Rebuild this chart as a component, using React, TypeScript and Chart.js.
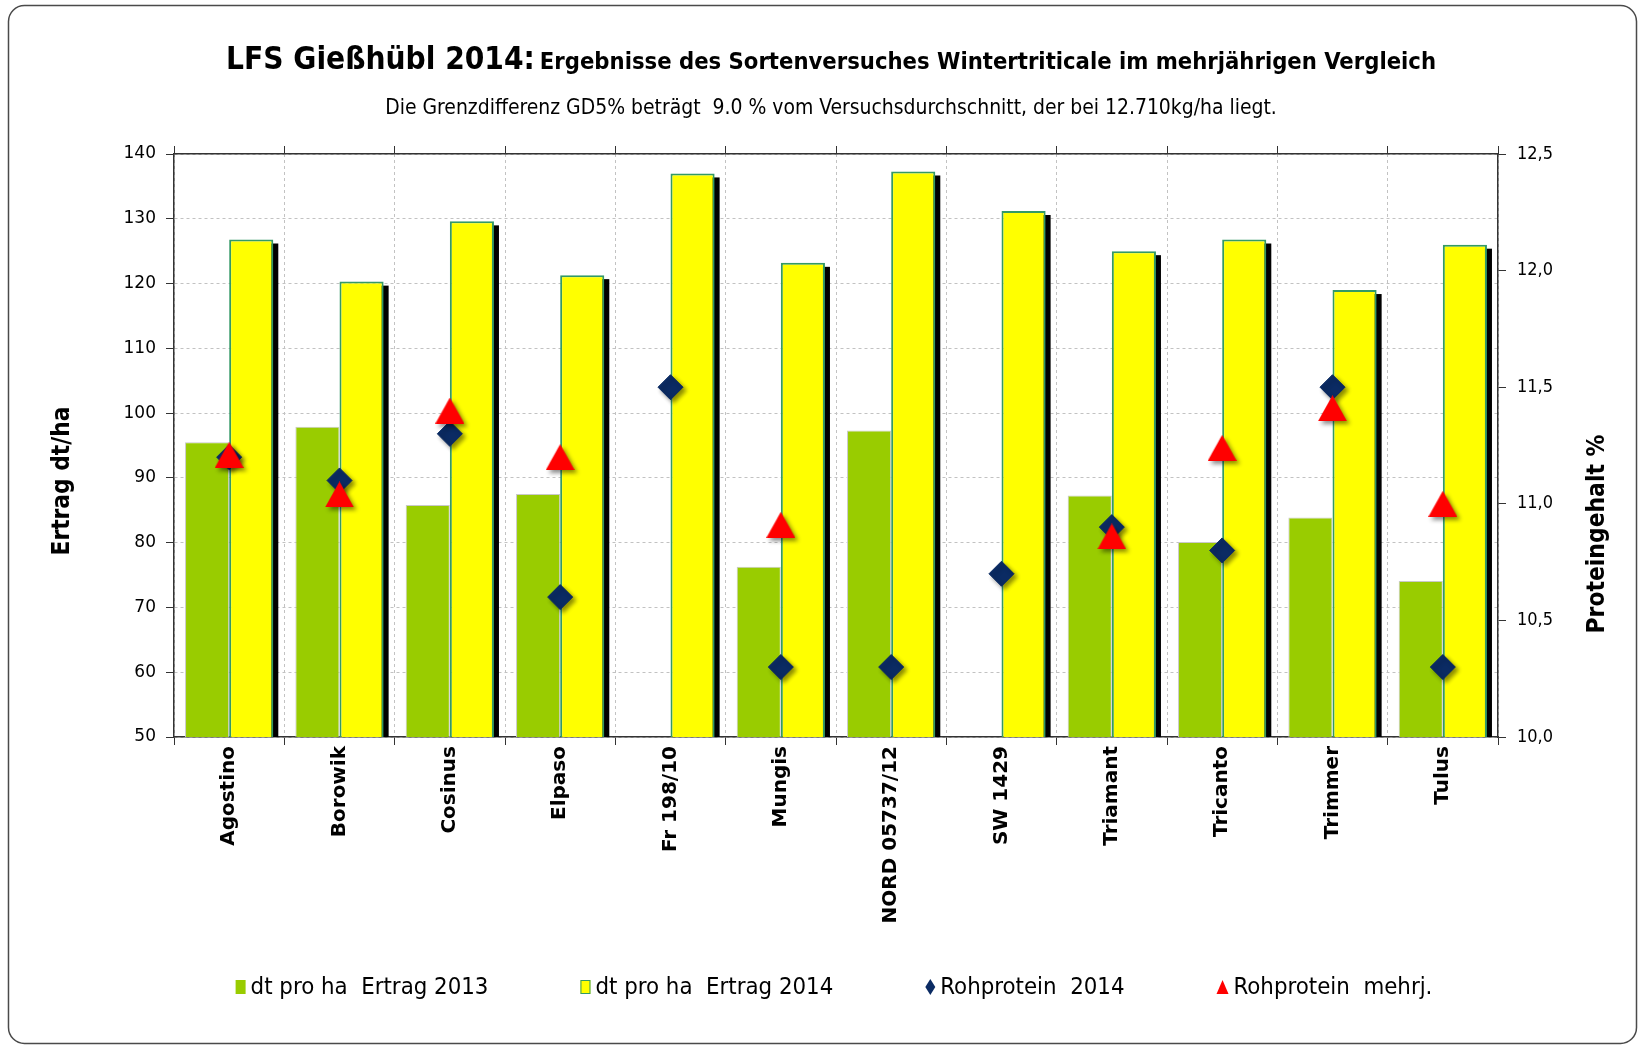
import React, { useEffect, useRef } from 'react';
import { Chart, registerables } from 'chart.js';

Chart.register(...registerables);

// ---------- data ----------
const categories = [
  'Agostino', 'Borowik', 'Cosinus', 'Elpaso', 'Fr 198/10', 'Mungis',
  'NORD 05737/12', 'SW 1429', 'Triamant', 'Tricanto', 'Trimmer', 'Tulus',
];
const ertrag2013 = [95.5, 97.9, 85.8, 87.5, null, 76.3, 97.3, null, 87.3, 80.1, 83.9, 74.1];
const ertrag2014 = [126.8, 120.3, 129.6, 121.3, 137.0, 123.2, 137.3, 131.2, 125.0, 126.8, 119.0, 126.0];
const rohprotein2014 = [11.2, 11.1, 11.3, 10.6, 11.5, 10.3, 10.3, 10.7, 10.9, 10.8, 11.5, 10.3];
const rohproteinMehrj = [11.21, 11.04, 11.4, 11.2, null, 10.91, null, null, 10.86, 11.24, 11.41, 11.0];

const seriesLabels = [
  'dt pro ha  Ertrag 2013',
  'dt pro ha  Ertrag 2014',
  'Rohprotein  2014',
  'Rohprotein  mehrj.',
];
const yieldAxis = { min: 50, max: 140, step: 10 };
const proteinAxis = { min: 10, max: 12.5, step: 0.5 };

const titleMain = 'LFS Gießhübl 2014:';
const titleRest = 'Ergebnisse des Sortenversuches Wintertriticale im mehrjährigen Vergleich';
const subtitleText =
  'Die Grenzdifferenz GD5% beträgt  9.0 % vom Versuchsdurchschnitt, der bei 12.710kg/ha liegt.';
const yTitle = 'Ertrag dt/ha';
const y1Title = 'Proteingehalt %';

// ---------- styles ----------
const TAHOMA = '"DejaVu Sans Condensed", "DejaVu Sans", sans-serif';
const VERDANA = '"DejaVu Sans", sans-serif';
const GREEN = '#99CC00';
const YELLOW = '#FFFF00';
const YELLOW_BORDER = '#339966';
const NAVY = '#0b2b63';
const RED = '#FF0000';
const GRID = '#c2c2c2';
const AXIS = '#333333';

function fitSize(ctx: CanvasRenderingContext2D, text: string, weight: string, family: string, target: number) {
  ctx.font = `${weight} 20px ${family}`;
  const w = ctx.measureText(text).width;
  return (20 * target) / w;
}

function drawDiamond(ctx: CanvasRenderingContext2D, x: number, y: number, hw: number, hh: number) {
  ctx.beginPath();
  ctx.moveTo(x, y - hh);
  ctx.lineTo(x + hw, y);
  ctx.lineTo(x, y + hh);
  ctx.lineTo(x - hw, y);
  ctx.closePath();
  ctx.fill();
}

function drawTriangle(ctx: CanvasRenderingContext2D, x: number, y: number, hw: number, hh: number) {
  ctx.beginPath();
  ctx.moveTo(x, y - hh);
  ctx.lineTo(x + hw, y + hh);
  ctx.lineTo(x - hw, y + hh);
  ctx.closePath();
  ctx.fill();
}

// triangle marker centred on its bounding box (as in the original spreadsheet chart)
function makeTriangleMarker(w: number, h: number, color: string) {
  const c = document.createElement('canvas');
  c.width = w;
  c.height = h;
  const g = c.getContext('2d')!;
  g.fillStyle = color;
  drawTriangle(g, w / 2, h / 2, w / 2, h / 2);
  return c;
}

const decorPlugin = {
  id: 'decor',
  beforeDraw(chart: any) {
    const { ctx, width, height } = chart;
    ctx.save();
    ctx.fillStyle = '#ffffff';
    ctx.fillRect(0, 0, width, height);
    ctx.restore();
  },
  beforeDatasetDraw(chart: any, args: any) {
    const { ctx, chartArea } = chart;
    const idx = args.index;
    if (idx === 1) {
      // solid black drop shadow of the 2014 bars
      ctx.save();
      ctx.beginPath();
      ctx.rect(chartArea.left, chartArea.top, chartArea.right - chartArea.left, chartArea.bottom - chartArea.top);
      ctx.clip();
      ctx.fillStyle = '#000000';
      args.meta.data.forEach((bar: any) => {
        if (bar.skip) return;
        const { x, y, base, width } = bar.getProps(['x', 'y', 'base', 'width'], true);
        ctx.fillRect(x - width / 2 + 5, y + 4, width, base - y);
      });
      ctx.restore();
    }
    if (idx === 2 || idx === 3) {
      ctx.save();
      ctx.shadowColor = 'rgba(0,0,0,0.45)';
      ctx.shadowBlur = 4;
      ctx.shadowOffsetX = 3;
      ctx.shadowOffsetY = 3;
    }
  },
  afterDatasetDraw(chart: any, args: any) {
    if (args.index === 2 || args.index === 3) chart.ctx.restore();
  },
  afterDraw(chart: any) {
    const { ctx } = chart;
    ctx.save();

    // frame
    ctx.strokeStyle = '#4a4a4a';
    ctx.lineWidth = 1.5;
    ctx.beginPath();
    const fx = 8.5, fy = 5.5, fw = 1628, fh = 1038, r = 16;
    ctx.moveTo(fx + r, fy);
    ctx.lineTo(fx + fw - r, fy);
    ctx.arcTo(fx + fw, fy, fx + fw, fy + r, r);
    ctx.lineTo(fx + fw, fy + fh - r);
    ctx.arcTo(fx + fw, fy + fh, fx + fw - r, fy + fh, r);
    ctx.lineTo(fx + r, fy + fh);
    ctx.arcTo(fx, fy + fh, fx, fy + fh - r, r);
    ctx.lineTo(fx, fy + r);
    ctx.arcTo(fx, fy, fx + r, fy, r);
    ctx.stroke();

    // title (two sizes)
    ctx.fillStyle = '#000000';
    ctx.textBaseline = 'alphabetic';
    ctx.textAlign = 'left';
    const s1 = fitSize(ctx, titleMain, 'bold', TAHOMA, 309);
    const s2 = fitSize(ctx, titleRest, 'bold', TAHOMA, 897);
    ctx.font = `bold ${s1}px ${TAHOMA}`;
    const w1 = ctx.measureText(titleMain).width;
    ctx.font = `bold ${s2}px ${TAHOMA}`;
    const w2 = ctx.measureText(titleRest).width;
    const gap = 5;
    const tx = 831 - (w1 + gap + w2) / 2;
    ctx.font = `bold ${s1}px ${TAHOMA}`;
    ctx.fillText(titleMain, tx, 69);
    ctx.font = `bold ${s2}px ${TAHOMA}`;
    ctx.fillText(titleRest, tx + w1 + gap, 69);

    // subtitle
    const s3 = fitSize(ctx, subtitleText, 'normal', TAHOMA, 892);
    ctx.font = `normal ${s3}px ${TAHOMA}`;
    ctx.textAlign = 'center';
    ctx.fillText(subtitleText, 831, 114);

    // axis titles
    const s4 = fitSize(ctx, yTitle, 'bold', TAHOMA, 149);
    ctx.font = `bold ${s4}px ${TAHOMA}`;
    ctx.textBaseline = 'middle';
    ctx.save();
    ctx.translate(63, 481);
    ctx.rotate(-Math.PI / 2);
    ctx.fillText(yTitle, 0, 0);
    ctx.restore();
    const s5 = fitSize(ctx, y1Title, 'bold', TAHOMA, 199);
    ctx.font = `bold ${s5}px ${TAHOMA}`;
    ctx.save();
    ctx.translate(1598, 534);
    ctx.rotate(-Math.PI / 2);
    ctx.fillText(y1Title, 0, 0);
    ctx.restore();

    // legend
    const ls = fitSize(ctx, seriesLabels[0], 'normal', TAHOMA, 238);
    ctx.font = `normal ${ls}px ${TAHOMA}`;
    ctx.textAlign = 'left';
    ctx.textBaseline = 'middle';
    const datasets = chart.data.datasets;
    const markerW = [10, 10, 10, 12];
    const afterMarker = 5;
    const itemGap = 92;
    const widths = datasets.map((d: any, i: number) => markerW[i] + afterMarker + ctx.measureText(d.label).width);
    const total = widths.reduce((a: number, b: number) => a + b, 0) + itemGap * (datasets.length - 1);
    let lx = 834 - total / 2;
    const ly = 987;
    datasets.forEach((d: any, i: number) => {
      if (i < 2) {
        ctx.fillStyle = d.backgroundColor;
        ctx.fillRect(lx, ly - 7, 10, 14);
        if (i === 1) {
          ctx.strokeStyle = d.borderColor;
          ctx.lineWidth = 1;
          ctx.strokeRect(lx + 0.5, ly - 6.5, 9, 13);
        }
      } else if (i === 2) {
        ctx.fillStyle = d.backgroundColor;
        drawDiamond(ctx, lx + 5, ly, 5, 8);
      } else {
        ctx.fillStyle = RED;
        drawTriangle(ctx, lx + 6, ly, 6, 7);
      }
      ctx.fillStyle = '#000000';
      ctx.fillText(d.label, lx + markerW[i] + afterMarker, ly + 1);
      lx += widths[i] + itemGap;
    });

    ctx.restore();
  },
};

export default function App() {
  const ref = useRef<HTMLCanvasElement>(null);

  useEffect(() => {
    const canvas = ref.current;
    if (!canvas) return;
    const triangleMarker = makeTriangleMarker(29, 26, RED);
    const chart = new Chart(canvas, {
      type: 'bar',
      data: {
        labels: categories,
        datasets: [
          {
            type: 'bar',
            label: seriesLabels[0],
            data: ertrag2013,
            backgroundColor: GREEN,
            borderColor: '#c9c9c9',
            borderWidth: { top: 1, left: 1, right: 1, bottom: 0 },
            borderSkipped: 'start',
            yAxisID: 'y',
            xAxisID: 'x',
            categoryPercentage: 0.8,
            barPercentage: 1,
            order: 2,
            clip: 0,
          },
          {
            type: 'bar',
            label: seriesLabels[1],
            data: ertrag2014,
            backgroundColor: YELLOW,
            borderColor: YELLOW_BORDER,
            borderWidth: { top: 2, left: 2, right: 2, bottom: 0 },
            borderSkipped: 'start',
            yAxisID: 'y',
            xAxisID: 'x',
            categoryPercentage: 0.8,
            barPercentage: 1,
            order: 3,
            clip: 0,
          },
          {
            type: 'line',
            label: seriesLabels[2],
            data: rohprotein2014,
            showLine: false,
            yAxisID: 'y1',
            xAxisID: 'x',
            pointStyle: 'rectRot',
            pointRadius: 12.5,
            pointHoverRadius: 12.5,
            backgroundColor: NAVY,
            borderColor: NAVY,
            borderWidth: 1,
            order: 1,
          },
          {
            type: 'line',
            label: seriesLabels[3],
            data: rohproteinMehrj,
            showLine: false,
            yAxisID: 'y1',
            xAxisID: 'x',
            pointStyle: triangleMarker,
            pointRadius: 14,
            pointHoverRadius: 14,
            backgroundColor: RED,
            borderColor: RED,
            borderWidth: 0,
            order: 0,
          },
        ],
      } as any,
      options: {
        responsive: false,
        maintainAspectRatio: false,
        animation: false,
        devicePixelRatio: 1,
        layout: { padding: { top: 154, left: 0, right: 0, bottom: 0 } },
        plugins: {
          legend: { display: false },
          title: { display: false },
          tooltip: { enabled: false },
        },
        scales: {
          x: {
            type: 'category',
            position: 'bottom',
            offset: true,
            grid: {
              offset: true,
              color: GRID,
              lineWidth: 1,
              tickColor: AXIS,
              tickLength: 8,
              tickBorderDash: [],
            },
            border: { color: AXIS, width: 1.5, dash: [3, 3] },
            ticks: {
              autoSkip: false,
              minRotation: 90,
              maxRotation: 90,
              padding: 1,
              color: '#000000',
              font: { family: VERDANA, size: 20, weight: 'bold' },
            },
            afterFit: (s: any) => {
              s.height = 309;
            },
          },
          x2: {
            type: 'category',
            position: 'top',
            offset: true,
            grid: {
              offset: true,
              drawOnChartArea: false,
              tickColor: AXIS,
              tickLength: 8,
            },
            border: { color: AXIS, width: 1.5 },
            ticks: { display: false },
            afterFit: (s: any) => {
              s.height = 0;
            },
          },
          y: {
            type: 'linear',
            position: 'left',
            min: yieldAxis.min,
            max: yieldAxis.max,
            ticks: {
              stepSize: yieldAxis.step,
              padding: 10,
              color: '#000000',
              font: { family: VERDANA, size: 17 },
            },
            grid: {
              color: GRID,
              lineWidth: 1,
              tickColor: AXIS,
              tickLength: 8,
              tickBorderDash: [],
            },
            border: { color: AXIS, width: 1.5, dash: [3, 3] },
            afterFit: (s: any) => {
              s.width = 174;
            },
          },
          y1: {
            type: 'linear',
            position: 'right',
            min: proteinAxis.min,
            max: proteinAxis.max,
            ticks: {
              stepSize: proteinAxis.step,
              padding: 11,
              color: '#000000',
              font: { family: TAHOMA, size: 18 },
              callback: (v: any) => Number(v).toFixed(1).replace('.', ','),
            },
            grid: {
              drawOnChartArea: false,
              tickColor: AXIS,
              tickLength: 8,
            },
            border: { color: AXIS, width: 1.5 },
            afterFit: (s: any) => {
              s.width = 143;
            },
          },
        },
      } as any,
      plugins: [decorPlugin],
    });
    return () => chart.destroy();
  }, []);

  return (
    <div style={{ position: 'absolute', left: 0, top: 0, width: 1641, height: 1046, background: '#ffffff' }}>
      <canvas ref={ref} width={1641} height={1046} style={{ display: 'block', width: 1641, height: 1046 }} />
    </div>
  );
}
